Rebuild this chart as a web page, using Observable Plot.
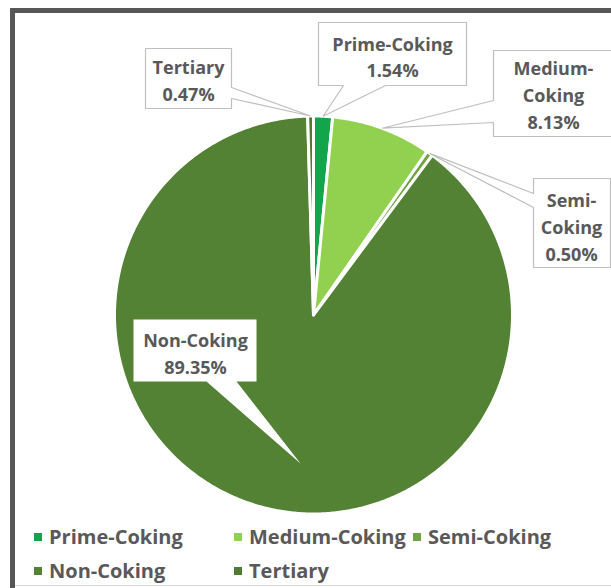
<!DOCTYPE html>
<html><head><meta charset="utf-8">
<script src="https://cdn.jsdelivr.net/npm/d3@7"></script>
<script src="https://cdn.jsdelivr.net/npm/@observablehq/plot@0.6"></script>
<style>
html,body{margin:0;padding:0;background:#fff;}
#wrap{position:relative;width:611px;height:588px;overflow:hidden;background:#fff;font-family:"Open Sans",sans-serif;}
#chart{position:absolute;left:0;top:0;}
.frameTop{position:absolute;left:10px;top:8px;width:601px;height:5px;background:#575757;}
.frameLeft{position:absolute;left:10px;top:8px;width:5px;height:580px;background:#575757;}
.frameBottom{position:absolute;left:15px;top:585px;width:596px;height:1px;background:#d9d9d9;}
.leg{position:absolute;display:flex;align-items:center;font-size:20px;font-weight:700;color:#595959;white-space:nowrap;line-height:1;}
.sw{width:8px;height:8px;margin-right:7px;flex:none;}
</style></head>
<body><div id="wrap"><div id="chart"></div></div>
<script>
// ---- data ----
const categories = ["Prime-Coking", "Medium-Coking", "Semi-Coking", "Non-Coking", "Tertiary"];
const shares = [1.54, 8.13, 0.50, 89.35, 0.47];
const colors = ["#12a54c", "#92d050", "#6ea443", "#548235", "#4e7b30"];
const wrapAtHyphen = [false, true, true, false, false];

// ---- callout layout (pixels): box [x0,y0,x1,y1], wedge edge, wedge base, text centre ----
const calloutBoxes = [[318, 22, 466, 85], [493, 50, 614, 136], [533, 178, 610, 267], [133, 319, 256, 381], [145, 48, 231, 108]];
const calloutEdges = ["bottom", "left", "left", "bottom", "right"];
const calloutBases = [[343, 385], [100, 122], [193, 207], [206, 236], [87, 98]];
const calloutTextPos = [[392, 55], [553, 93], [571, 225], [195, 351.5], [188, 78.5]];
const calloutBorder = [true, true, true, false, true];
const calloutTipRadius = [1.0, 1.0, 1.0, null, 1.0];
const calloutTipOverride = [null, null, null, [300, 463], null];

// ---- geometry ----
const W = 611, H = 520;
const cx = 313, cy = 314.5, R = 199;
const arcs = d3.pie().sort(null).startAngle(0).endAngle(2 * Math.PI)(shares);

const slicePts = [];
arcs.forEach((a, i) => {
  const cat = categories[i];
  slicePts.push({cat, x: cx, y: cy});
  const n = Math.max(2, Math.ceil((a.endAngle - a.startAngle) / (Math.PI / 360)));
  for (let k = 0; k <= n; k++) {
    const t = a.startAngle + (a.endAngle - a.startAngle) * k / n;
    slicePts.push({cat, x: cx + R * Math.sin(t), y: cy - R * Math.cos(t)});
  }
  slicePts.push({cat, x: cx, y: cy});
});

function calloutPoly(i) {
  const [x0, y0, x1, y1] = calloutBoxes[i];
  const [b0, b1] = calloutBases[i];
  const a = arcs[i];
  const mid = (a.startAngle + a.endAngle) / 2;
  const tip = calloutTipOverride[i] || [cx + R * calloutTipRadius[i] * Math.sin(mid), cy - R * calloutTipRadius[i] * Math.cos(mid)];
  let p;
  const e = calloutEdges[i];
  if (e === "bottom") p = [[x0, y0], [x1, y0], [x1, y1], [b1, y1], tip, [b0, y1], [x0, y1], [x0, y0]];
  else if (e === "right") p = [[x0, y0], [x1, y0], [x1, b0], tip, [x1, b1], [x1, y1], [x0, y1], [x0, y0]];
  else p = [[x0, y0], [x1, y0], [x1, y1], [x0, y1], [x0, b1], tip, [x0, b0], [x0, y0]];
  return p.map(([x, y]) => ({id: categories[i], border: calloutBorder[i], x, y}));
}
const calloutPts = categories.flatMap((c, i) => calloutPoly(i));

const labels = categories.map((c, i) => ({
  x: calloutTextPos[i][0],
  y: calloutTextPos[i][1],
  text: (wrapAtHyphen[i] ? c.replace("-", "-\n") : c) + "\n" + shares[i].toFixed(2) + "%"
}));

const plot = Plot.plot({
  width: W, height: H, margin: 0,
  style: {background: "transparent", overflow: "visible"},
  x: {domain: [0, W], range: [0, W], axis: null},
  y: {domain: [0, H], range: [0, H], axis: null},
  color: {domain: categories, range: colors},
  marks: [
    Plot.line(slicePts, {x: "x", y: "y", z: "cat", fill: "cat", stroke: "white", strokeWidth: 3, strokeLinejoin: "round", curve: "linear"}),
    Plot.line(calloutPts.filter(d => !d.border), {x: "x", y: "y", z: "id", fill: "white", stroke: "none"}),
    Plot.line(calloutPts.filter(d => d.border), {x: "x", y: "y", z: "id", fill: "white", stroke: "#bfbfbf", strokeWidth: 1.2, strokeLinejoin: "miter"}),
    Plot.text(labels, {x: "x", y: "y", text: "text", fontSize: 18, fontWeight: 700, fill: "#595959", lineHeight: 1.48, fontFamily: "Open Sans"})
  ]
});
document.getElementById("chart").appendChild(plot);

// ---- legend ----
const wrap = document.getElementById("wrap");
const legCols = [34, 234, 413];
const legRows = [537, 571];
categories.forEach((c, i) => {
  const el = document.createElement("div");
  el.className = "leg";
  el.style.left = legCols[i % 3] + "px";
  el.style.top = (legRows[Math.floor(i / 3)] - 12) + "px";
  el.style.height = "24px";
  const sw = document.createElement("div");
  sw.className = "sw";
  sw.style.background = colors[i];
  const t = document.createElement("span");
  t.textContent = c;
  el.appendChild(sw); el.appendChild(t);
  wrap.appendChild(el);
});
["frameTop", "frameLeft", "frameBottom"].forEach(k => {
  const d = document.createElement("div"); d.className = k; wrap.appendChild(d);
});
</script>
</body></html>
